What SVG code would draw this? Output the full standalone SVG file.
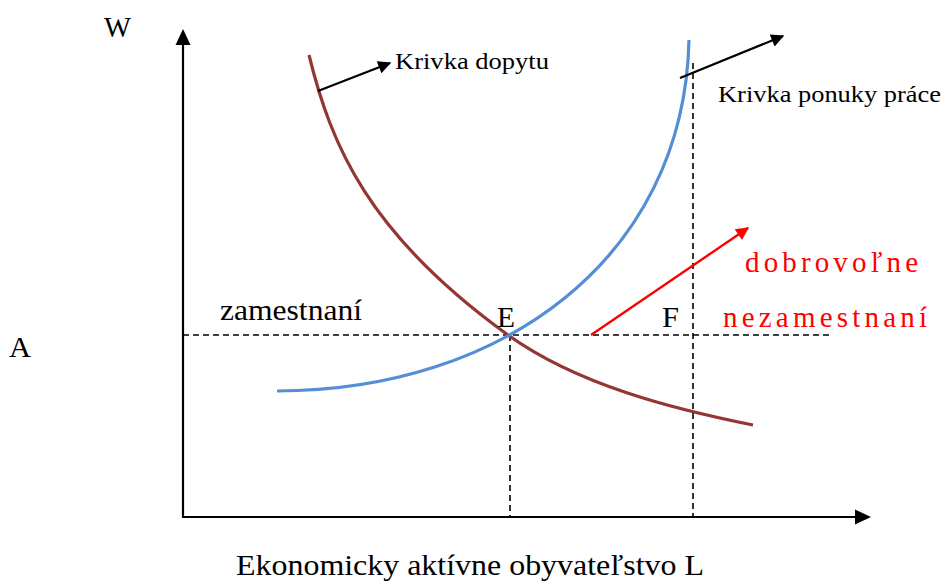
<svg xmlns="http://www.w3.org/2000/svg" width="945" height="582" viewBox="0 0 945 582">
<style>
text{font-family:'Liberation Serif','DejaVu Serif','Noto Serif','Times New Roman',serif}
.big{font-size:29px;fill:#000}
.sm{font-size:24px;fill:#000}
.red{font-size:29px;fill:#ff0000}
.dash{stroke:#000;stroke-width:1.6;stroke-dasharray:6,4;fill:none}
.ax{stroke:#000;stroke-width:2.2;fill:none}
.arr{stroke:#000;stroke-width:2.2;fill:none;marker-end:url(#ah)}
</style>
<defs>
<marker id="ah" viewBox="0 0 10 10" refX="9" refY="5" markerUnits="userSpaceOnUse" markerWidth="16" markerHeight="13" orient="auto"><path d="M0,0 L10,5 L0,10 z" fill="#000"/></marker>
<marker id="ahr" viewBox="0 0 10 10" refX="9" refY="5" markerUnits="userSpaceOnUse" markerWidth="16" markerHeight="13" orient="auto"><path d="M0,0 L10,5 L0,10 z" fill="#ff0000"/></marker>
</defs>
<rect width="945" height="582" fill="#fff"/>
<g id="axes">
<line class="ax" x1="183" y1="517" x2="183" y2="44"/>
<polygon points="183,29 175.5,45 190.5,45" fill="#000"/>
<line class="ax" x1="182" y1="517" x2="855" y2="517"/>
<polygon points="871,517 855,509.5 855,524.5" fill="#000"/>
</g>
<g id="guides">
<line class="dash" x1="183" y1="335" x2="832" y2="335"/>
<line class="dash" x1="510" y1="335" x2="510" y2="517"/>
<line class="dash" x1="693" y1="63" x2="693" y2="517"/>
</g>
<g id="demand-curve">
<path d="M309,55 C331,145 368,234 508,335 C578,385 673,409 753,425" fill="none" stroke="#943634" stroke-width="3.2"/>
</g>
<g id="supply-curve">
<path d="M277,391 C500,391 684,260 689,40" fill="none" stroke="#558ED5" stroke-width="3.2"/>
</g>
<g id="connectors">
<line class="arr" x1="318" y1="91" x2="390" y2="63"/>
<line class="arr" x1="680" y1="78" x2="783" y2="36"/>
<line x1="591" y1="335" x2="748" y2="228" stroke="#ff0000" stroke-width="2.4" marker-end="url(#ahr)"/>
</g>
<g id="labels">
<text class="big" x="104" y="37" textLength="27" lengthAdjust="spacingAndGlyphs">W</text>
<text class="big" x="9" y="357" textLength="22" lengthAdjust="spacingAndGlyphs">A</text>
<text class="big" x="220" y="320" textLength="142" lengthAdjust="spacingAndGlyphs">zamestnaní</text>
<text class="big" x="497" y="327" textLength="18" lengthAdjust="spacingAndGlyphs">E</text>
<text class="big" x="662" y="327" textLength="17" lengthAdjust="spacingAndGlyphs">F</text>
<text class="sm" x="395" y="69" textLength="154" lengthAdjust="spacingAndGlyphs">Krivka dopytu</text>
<text class="sm" x="718" y="102" textLength="223" lengthAdjust="spacingAndGlyphs">Krivka ponuky práce</text>
<text class="red" x="745" y="272" textLength="173" lengthAdjust="spacing">dobrovoľne</text>
<text class="red" x="723" y="327" textLength="204" lengthAdjust="spacing">nezamestnaní</text>
<text x="236" y="575" font-size="30" fill="#000" textLength="468" lengthAdjust="spacingAndGlyphs">Ekonomicky aktívne obyvateľstvo L</text>
</g>
</svg>
